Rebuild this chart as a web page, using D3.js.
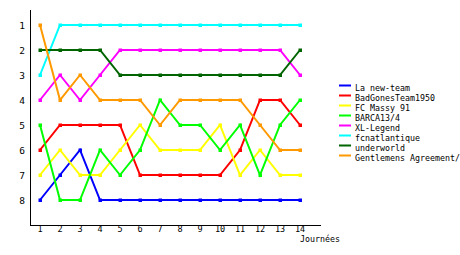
<!DOCTYPE html>
<html>
<head>
<meta charset="utf-8">
<script src="https://cdn.jsdelivr.net/npm/d3@7"></script>
<style>
  body { margin: 0; background: #fff; }
  text { font-family: "DejaVu Sans Mono", monospace; fill: #000; }
</style>
</head>
<body>
<svg id="chart" width="460" height="255"></svg>
<script>
'use strict';

// Journées and team rankings
const journees = [1, 2, 3, 4, 5, 6, 7, 8, 9, 10, 11, 12, 13, 14];
const ranks = [1, 2, 3, 4, 5, 6, 7, 8];
const teams = ['La new-team', 'BadGonesTeam1950', 'FC Massy 91', 'BARCA13/4',
    'XL-Legend', 'fcnatlantique', 'underworld', 'Gentlemens Agreement/'];
const colors = ['#0000ff', '#ff0000', '#ffff00', '#00ff00',
    '#ff00ff', '#00ffff', '#006400', '#ff9900'];

const laNewTeam = [8, 7, 6, 8, 8, 8, 8, 8, 8, 8, 8, 8, 8, 8];
const badGones = [6, 5, 5, 5, 5, 7, 7, 7, 7, 7, 6, 4, 4, 5];
const fcMassy = [7, 6, 7, 7, 6, 5, 6, 6, 6, 5, 7, 6, 7, 7];
const barca = [5, 8, 8, 6, 7, 6, 4, 5, 5, 6, 5, 7, 5, 4];
const xlLegend = [4, 3, 4, 3, 2, 2, 2, 2, 2, 2, 2, 2, 2, 3];
const fcnatlantique = [3, 1, 1, 1, 1, 1, 1, 1, 1, 1, 1, 1, 1, 1];
const underworld = [2, 2, 2, 2, 3, 3, 3, 3, 3, 3, 3, 3, 3, 2];
const gentlemens = [1, 4, 3, 4, 4, 4, 5, 4, 4, 4, 4, 5, 6, 6];

const series = [laNewTeam, badGones, fcMassy, barca, xlLegend, fcnatlantique, underworld, gentlemens];

const svg = d3.select('#chart');

const x = d3.scaleLinear().domain([0, 14.5]).range([20, 310]);
const y = d3.scaleLinear().domain([0, 9]).range([0, 225]);

// Axes lines
svg.append('line').attr('x1', 30.5).attr('x2', 30.5).attr('y1', 10).attr('y2', 225.5)
    .attr('stroke', '#000').attr('shape-rendering', 'crispEdges');
svg.append('line').attr('x1', 30).attr('x2', 321).attr('y1', 225.5).attr('y2', 225.5)
    .attr('stroke', '#000').attr('shape-rendering', 'crispEdges');

// Tick labels
svg.selectAll('.ylab').data(ranks).enter().append('text')
    .attr('x', 22).attr('y', d => y(d) + 3.5)
    .attr('text-anchor', 'middle').attr('font-size', 9.5)
    .text(d => d);

svg.selectAll('.xlab').data(journees).enter().append('text')
    .attr('x', d => x(d)).attr('y', 232)
    .attr('text-anchor', 'middle').attr('font-size', 8.5)
    .text(d => d);

svg.append('text').attr('x', 300).attr('y', 242).attr('font-size', 8.3).text('Journées');

// Lines
const line = d3.line().x((d, i) => x(journees[i])).y(d => y(d));

series.forEach((s, k) => {
    svg.append('path').datum(s)
        .attr('d', line)
        .attr('fill', 'none')
        .attr('stroke', colors[k])
        .attr('stroke-width', 2);
    svg.selectAll('.m' + k).data(s).enter().append('rect')
        .attr('x', (d, i) => x(journees[i]) - 1.5)
        .attr('y', d => y(d) - 1.5)
        .attr('width', 3.5).attr('height', 3.5)
        .attr('fill', colors[k]);
});

// Legend
const legend = svg.append('g');
teams.forEach((t, k) => {
    const ly = 85.5 + k * 10;
    legend.append('rect').attr('x', 339).attr('y', ly - 1).attr('width', 12).attr('height', 2)
        .attr('fill', colors[k]);
    legend.append('text').attr('x', 355).attr('y', ly + 5).attr('font-size', 8.3).text(t);
});
</script>
</body>
</html>
